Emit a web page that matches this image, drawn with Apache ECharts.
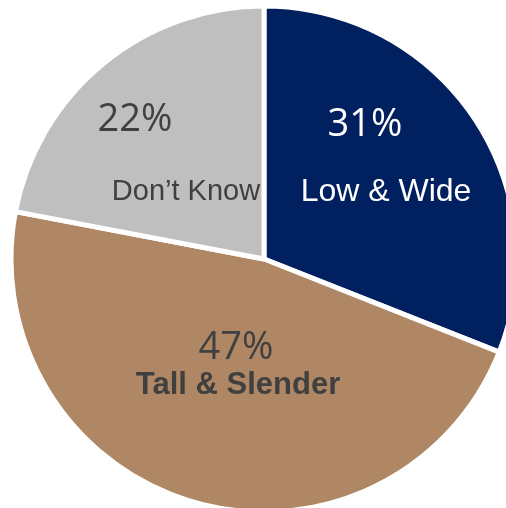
<!DOCTYPE html>
<html>
<head>
<meta charset="utf-8">
<script src="https://cdn.jsdelivr.net/npm/echarts@6/dist/echarts.min.js"></script>
<style>html,body{margin:0;padding:0;background:#fff}#c{width:506px;height:508px}</style>
</head>
<body>
<div id="c"></div>
<script>
const categories = ['Low & Wide', 'Tall & Slender', 'Don\u2019t Know'];
const values = [31, 47, 22];
const colors = ['#002060', '#AF8764', '#BFBFBF'];

const labelStyles = [
  { pct: { color: '#ffffff', fontSize: 38, fontFamily: 'Open Sans', lineHeight: 70, padding: [0, 42, 0, 0] },
    name: { color: '#ffffff', fontSize: 32, fontFamily: 'Liberation Sans', lineHeight: 64 } },
  { pct: { color: '#404040', fontSize: 38, fontFamily: 'Open Sans', lineHeight: 40, padding: [0, 4, 0, 0] },
    name: { color: '#404040', fontSize: 31, fontWeight: 'bold', fontFamily: 'Liberation Sans', lineHeight: 34 } },
  { pct: { color: '#404040', fontSize: 38, fontFamily: 'Open Sans', lineHeight: 76, padding: [0, 102, 0, 0] },
    name: { color: '#404040', fontSize: 29, fontFamily: 'Liberation Sans', lineHeight: 68 } }
];
const labelPos = [[386, 157], [238, 365], [186, 154]];

const chart = echarts.init(document.getElementById('c'));
chart.setOption({
  animation: false,
  series: [{
    type: 'pie',
    center: [264, 259],
    radius: 253,
    startAngle: 90,
    clockwise: true,
    silent: true,
    itemStyle: { borderColor: '#ffffff', borderWidth: 5 },
    labelLine: { show: false },
    data: categories.map((c, i) => ({
      name: c,
      value: values[i],
      itemStyle: { color: colors[i] },
      label: {
        show: true,
        position: 'inside',
        formatter: '{pct|' + values[i] + '%}\n{name|' + c + '}',
        rich: labelStyles[i]
      }
    })),
    labelLayout: function (p) {
      return { x: labelPos[p.dataIndex][0], y: labelPos[p.dataIndex][1], align: 'center', verticalAlign: 'middle' };
    }
  }]
});
</script>
</body>
</html>
